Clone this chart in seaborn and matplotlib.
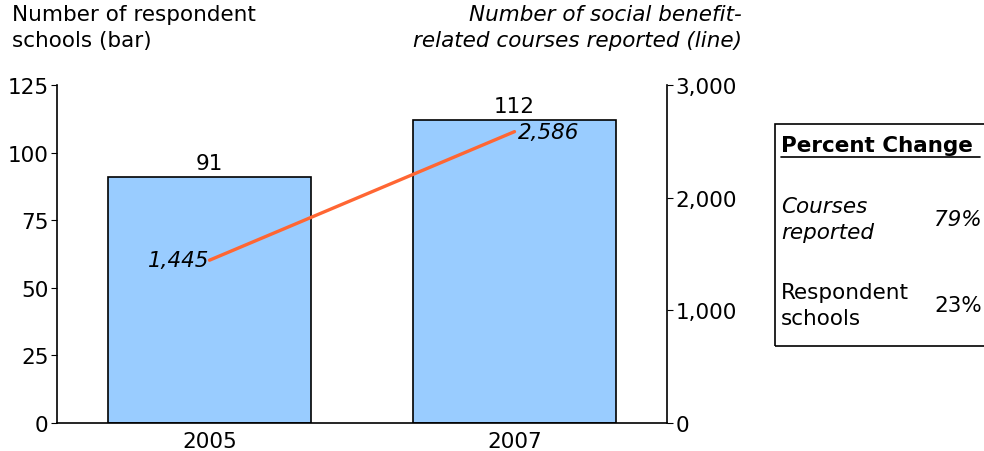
import matplotlib
matplotlib.use('Agg')
import matplotlib.pyplot as plt
import seaborn as sns
import pandas as pd

# 데이터
years = ['2005', '2007']
schools = [91, 112]
courses = [1445, 2586]
pct_courses = '79%'
pct_schools = '23%'

sns.set_style('white')
plt.rcParams['font.family'] = ['DejaVu Sans']
plt.rcParams['text.color'] = 'black'
plt.rcParams['xtick.color'] = 'black'
plt.rcParams['ytick.color'] = 'black'

FS = 15.5
LS = 1.4

df = pd.DataFrame({'year': years, 'schools': schools, 'courses': courses})

fig = plt.figure(figsize=(9.84, 4.52), dpi=100)
ax = fig.add_axes([57 / 984, 28 / 452, 610 / 984, 338 / 452])

sns.barplot(data=df, x='year', y='schools', ax=ax, color='#99CCFF',
            saturation=1, width=0.665, edgecolor='black', linewidth=1.2)
ax.set_xlim(-0.5, 1.5)
ax.set_ylim(0, 125)
ax.set_yticks([0, 25, 50, 75, 100, 125])
ax.set_xlabel('')
ax.set_ylabel('')
ax.tick_params(axis='both', labelsize=FS, length=4, direction='out', left=True, bottom=False, pad=2)
for s in ['top', 'right']:
    ax.spines[s].set_visible(False)
for s in ['left', 'bottom']:
    ax.spines[s].set_color('black')
    ax.spines[s].set_linewidth(1.2)

# 막대 값 표시
for i, v in enumerate(schools):
    ax.text(i, v + 1.5, str(v), ha='center', va='bottom', fontsize=FS)

# 오른쪽 축 (강좌 수)
ax2 = ax.twinx()
sns.lineplot(x=[0, 1], y=courses, ax=ax2, color='#FF6633', linewidth=2.4)
ax2.set_ylim(0, 3000)
ax2.set_yticks([0, 1000, 2000, 3000])
ax2.set_yticklabels(['0', '1,000', '2,000', '3,000'])
ax2.tick_params(axis='y', labelsize=FS, length=4, direction='out', right=True, pad=2)
ax2.set_xlim(-0.5, 1.5)
for s in ['top', 'left', 'bottom']:
    ax2.spines[s].set_visible(False)
ax2.spines['right'].set_color('black')
ax2.spines['right'].set_linewidth(1.2)

ax2.text(0, courses[0], '1,445', ha='right', va='center', fontsize=FS, style='italic')
ax2.text(1.01, courses[1], '2,586', ha='left', va='center', fontsize=FS, style='italic')

# 축 제목
fig.text(12 / 984, 1 - 5 / 452, 'Number of respondent\nschools (bar)', ha='left', va='top',
         fontsize=FS, linespacing=LS)
fig.text(742 / 984, 1 - 5 / 452, 'Number of social benefit-\nrelated courses reported (line)',
         ha='right', va='top', fontsize=FS, style='italic', linespacing=LS)

# 변화율 박스
box = plt.Rectangle((775 / 984, 1 - 347 / 452), 215 / 984, 222 / 452, transform=fig.transFigure,
                    fill=False, edgecolor='black', linewidth=1.2)
fig.patches.append(box)
fig.text(781 / 984, 1 - 146 / 452, 'Percent Change', ha='left', va='center', fontsize=FS,
         fontweight='bold')
fig.add_artist(plt.Line2D([781 / 984, 980 / 984], [1 - 158 / 452, 1 - 158 / 452],
                          transform=fig.transFigure, color='black', linewidth=1.2))
fig.text(781 / 984, 1 - 220 / 452, 'Courses\nreported', ha='left', va='center', fontsize=FS,
         style='italic', linespacing=LS)
fig.text(982 / 984, 1 - 220 / 452, pct_courses, ha='right', va='center', fontsize=FS,
         style='italic')
fig.text(781 / 984, 1 - 306 / 452, 'Respondent\nschools', ha='left', va='center', fontsize=FS,
         linespacing=LS)
fig.text(982 / 984, 1 - 306 / 452, pct_schools, ha='right', va='center', fontsize=FS)

fig.savefig('out.png', dpi=100)
